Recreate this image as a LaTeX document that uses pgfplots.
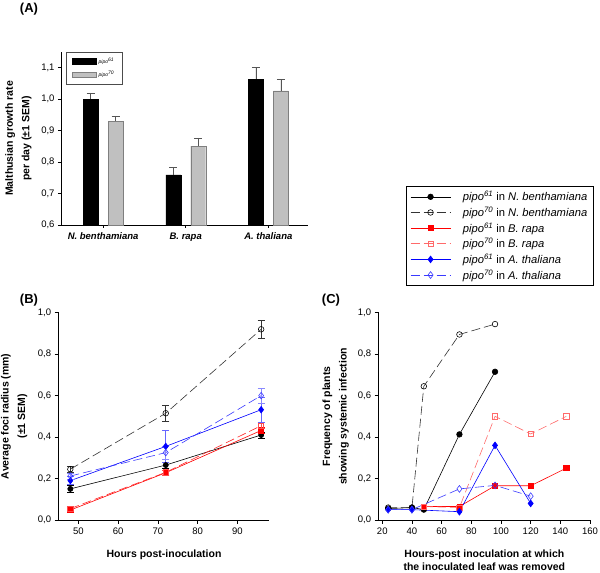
\documentclass[border=0pt]{standalone}
\usepackage{pgfplots}
\pgfplotsset{compat=1.18}
\usepackage{fontspec}
\setmainfont{Liberation Sans}
\setsansfont{Liberation Sans}
\definecolor{barg}{HTML}{C0C0C0}
\definecolor{bargd}{HTML}{7F7F7F}
\definecolor{errg}{HTML}{555555}
\definecolor{lred}{HTML}{FF6A6A}
\definecolor{mblue}{HTML}{0000FF}
\definecolor{lblue}{HTML}{3A3AFF}
\begin{document}
\begin{tikzpicture}
\path[use as bounding box] (0pt,0pt) rectangle (600pt,573pt);
\pgfplotsset{
  every axis/.append style={
    scale only axis, anchor=south west,
    axis lines*=left, axis line style={-, black, line width=0.6pt},
    tick align=outside, major tick length=4pt,
    tick style={black, line width=0.6pt},
    tick label style={font=\fontsize{9.5}{11}\selectfont},
    label style={font=\fontsize{10.5}{16.5}\selectfont\bfseries, align=center},
    /pgf/number format/assume math mode=true,
    clip=false,
  },
  dsh/.style={dash pattern=on 9pt off 4pt},
}
\node[font=\fontsize{13}{15}\selectfont\bfseries] at (29pt,564pt) {(A)};
\node[font=\fontsize{13}{15}\selectfont\bfseries] at (29pt,273pt) {(B)};
\node[font=\fontsize{13}{15}\selectfont\bfseries] at (331pt,273pt) {(C)};

% ---------------- Panel A
\begin{axis}[
  at={(61pt,348pt)}, width=247pt, height=173pt,
  xmin=-0.51, xmax=2.48, ymin=0.6, ymax=1.15,
  ytick={0.6,0.7,0.8,0.9,1.0,1.1},
  yticklabel style={/pgf/number format/.cd, fixed, fixed zerofill, precision=1, use comma},
  xtick={0,1,2}, xticklabels={N. benthamiana, B. rapa, A. thaliana},
  xticklabel style={font=\fontsize{9.5}{11}\selectfont\bfseries\itshape, yshift=-1pt},
  major tick length=3pt,
  ylabel={Malthusian growth rate\\per day (±1 SEM)},
  ylabel style={at={(axis description cs:-0.172,0.5)}, anchor=center, rotate=0},
  legend style={at={(axis description cs:0.02,1.0)}, anchor=north west,
    draw=black!70, line width=0.5pt, font=\fontsize{5}{6}\selectfont\itshape,
    inner xsep=6pt, inner ysep=4pt, row sep=2pt, cells={anchor=west}},
  legend image code/.code={\draw[#1] (0pt,-2.5pt) rectangle (24pt,3pt);},
]
\addplot[ybar, bar width=15pt, bar shift=0pt, fill=black, draw=black,
  error bars/.cd, y dir=plus, y explicit,
  error bar style={errg, line width=0.6pt},
  error mark options={errg, rotate=90, mark size=4pt, line width=0.6pt}]
  coordinates {(-0.151,1.000) +- (0,0.020) (0.849,0.759) +- (0,0.024) (1.849,1.063) +- (0,0.037)};
\addlegendentry{pipo$^{\mathit{61}}$}
\addplot[ybar, bar width=15pt, bar shift=0pt, fill=barg, draw=bargd,
  error bars/.cd, y dir=plus, y explicit,
  error bar style={errg, line width=0.6pt},
  error mark options={errg, rotate=90, mark size=4pt, line width=0.6pt}]
  coordinates {(0.151,0.930) +- (0,0.016) (1.151,0.851) +- (0,0.026) (2.151,1.026) +- (0,0.038)};
\addlegendentry{pipo$^{\mathit{70}}$}
\end{axis}

% ---------------- Panel B
\begin{axis}[
  at={(58.7pt,53pt)}, width=210.6pt, height=207.3pt,
  xmin=45.07, xmax=98.05, ymin=0, ymax=1.0,
  xtick={50,60,70,80,90}, ytick={0,0.2,0.4,0.6,0.8,1.0},
  yticklabel style={/pgf/number format/.cd, fixed, fixed zerofill, precision=1, use comma},
  xlabel={Hours post-inoculation},
  xlabel style={at={(axis description cs:0.5,-0.169)}, anchor=center},
  ylabel={Average foci radius (mm)\\(±1 SEM)},
  ylabel style={at={(axis description cs:-0.212,0.5)}, anchor=center},
  error bars/error bar style={line width=0.6pt},
  error bars/error mark options={rotate=90, mark size=3.5pt, line width=0.6pt},
]
\addplot[black, line width=0.6pt, mark=*, mark size=2.6pt, mark options={solid, fill=black},
  error bars/.cd, y dir=both, y explicit]
  coordinates {(48,0.150) +- (0,0.015) (72,0.265) +- (0,0.015) (96,0.410) +- (0,0.015)};
\addplot[black!80, dsh, line width=0.6pt, mark=o, mark size=2.8pt, mark options={solid, black, fill=white},
  error bars/.cd, y dir=both, y explicit, error bar style={solid, black!80}]
  coordinates {(48,0.245) +- (0,0.015) (72,0.515) +- (0,0.040) (96,0.920) +- (0,0.045)};
\addplot[red, line width=0.6pt, mark=square*, mark size=2.5pt, mark options={solid, fill=red},
  error bars/.cd, y dir=both, y explicit, error bar style={red}]
  coordinates {(48,0.048) +- (0,0.012) (72,0.228) +- (0,0.012) (96,0.432) +- (0,0.015)};
\addplot[red!85!white, dsh, line width=0.6pt, mark=square, mark size=2.6pt, mark options={solid, red!70!white, fill=white},
  error bars/.cd, y dir=both, y explicit, error bar style={solid, red!70!white}]
  coordinates {(48,0.055) +- (0,0.012) (72,0.230) +- (0,0.012) (96,0.455) +- (0,0.015)};
\addplot[mblue, line width=0.6pt, mark=diamond*, mark size=3.3pt, mark options={solid, fill=mblue},
  error bars/.cd, y dir=both, y explicit, error bar style={mblue!60!white}]
  coordinates {(48,0.190) +- (0,0.020) (72,0.355) +- (0,0.078) (96,0.532) +- (0,0.060)};
\addplot[lblue, dsh, line width=0.6pt, mark=diamond, mark size=3.3pt, mark options={solid, lblue, fill=white},
  error bars/.cd, y dir=both, y explicit, error bar style={solid, lblue!60!white}]
  coordinates {(48,0.212) +- (0,0.015) (72,0.325) +- (0,0.030) (96,0.600) +- (0,0.035)};
\end{axis}

% ---------------- Panel C
\begin{axis}[
  at={(378.7pt,53pt)}, width=211.3pt, height=207.3pt,
  xmin=17.6, xmax=160, ymin=0, ymax=1.0,
  xtick={20,40,60,80,100,120,140,160}, ytick={0,0.2,0.4,0.6,0.8,1.0},
  yticklabel style={/pgf/number format/.cd, fixed, fixed zerofill, precision=1, use comma},
  xlabel={Hours-post inoculation at which\\the inoculated leaf was removed},
  xlabel style={at={(axis description cs:0.5,-0.195)}, anchor=center,
    font=\fontsize{10.5}{13}\selectfont\bfseries},
  ylabel={Frequency of plants\\showing systemic infection},
  ylabel style={at={(axis description cs:-0.204,0.5)}, anchor=center},
  legend cell align=left,
  legend style={at={(axis description cs:0.129,1.611)}, anchor=north west,
    draw=black, line width=0.6pt, font=\fontsize{11.2}{13}\selectfont,
    inner xsep=4pt, inner ysep=3pt, row sep=0.7pt,
    /tikz/every odd column/.append style={column sep=10pt}},
  legend image code/.code={
    \draw[#1, mark=none] (0pt,0pt) -- (40pt,0pt);
    \draw[#1, only marks] plot coordinates {(20pt,0pt)};},
]
\addplot[black, line width=0.6pt, mark=*, mark size=2.8pt, mark options={solid, fill=black}]
  coordinates {(24,0.055) (40,0.060) (48,0.050) (72,0.413) (96,0.715)};
\addlegendentry{\textit{pipo$^{\mathit{61}}$} in \textit{N. benthamiana}}
\addplot[black!80, dsh, line width=0.6pt, mark=o, mark size=2.8pt, mark options={solid, black, fill=white}]
  coordinates {(24,0.060) (40,0.060) (48,0.645) (72,0.895) (96,0.945)};
\addlegendentry{\textit{pipo$^{\mathit{70}}$} in \textit{N. benthamiana}}
\addplot[red, line width=0.6pt, mark=square*, mark size=2.6pt, mark options={solid, fill=red}]
  coordinates {(48,0.065) (72,0.065) (96,0.165) (120,0.165) (144,0.250)};
\addlegendentry{\textit{pipo$^{\mathit{61}}$} in \textit{B. rapa}}
\addplot[lred, dsh, line width=0.6pt, mark=square, mark size=2.7pt, mark options={solid, lred, fill=white}]
  coordinates {(48,0.065) (72,0.060) (96,0.500) (120,0.415) (144,0.500)};
\addlegendentry{\textit{pipo$^{\mathit{70}}$} in \textit{B. rapa}}
\addplot[mblue, line width=0.6pt, mark=diamond*, mark size=3.4pt, mark options={solid, fill=mblue}]
  coordinates {(24,0.050) (40,0.050) (72,0.040) (96,0.360) (120,0.080)};
\addlegendentry{\textit{pipo$^{\mathit{61}}$} in \textit{A. thaliana}}
\addplot[lblue, dsh, line width=0.6pt, mark=diamond, mark size=3.4pt, mark options={solid, lblue, fill=white}]
  coordinates {(24,0.050) (40,0.050) (72,0.150) (96,0.167) (120,0.115)};
\addlegendentry{\textit{pipo$^{\mathit{70}}$} in \textit{A. thaliana}}
\end{axis}
\end{tikzpicture}
\end{document}
